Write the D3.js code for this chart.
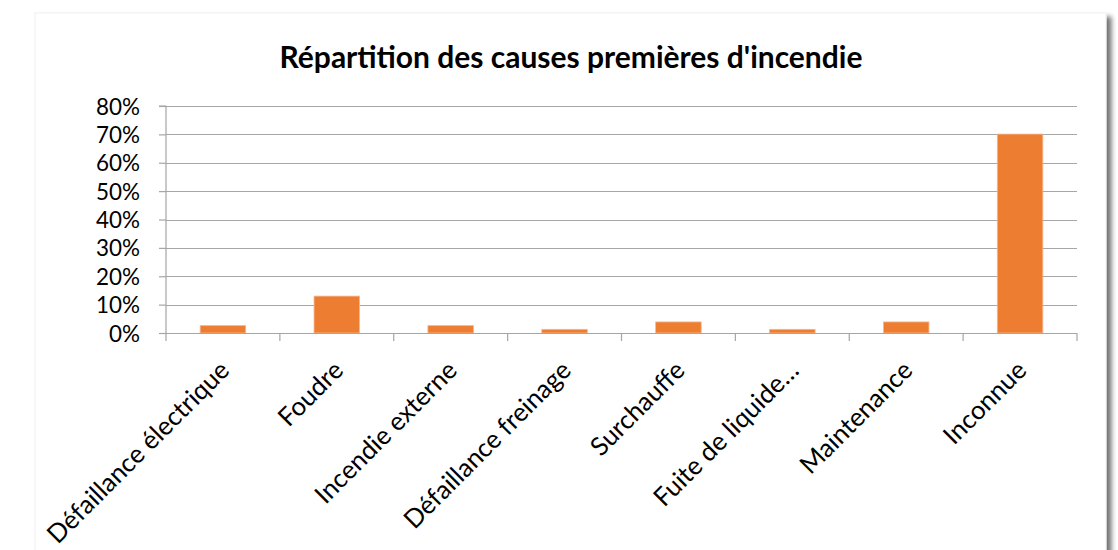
<!DOCTYPE html>
<html><head><meta charset="utf-8">
<script src="https://cdn.jsdelivr.net/npm/d3@7"></script>
<style>
html,body{margin:0;padding:0;background:#fff;}
svg{display:block;}
text{font-family:Lato,"Noto Sans",sans-serif;fill:#000;}
</style></head>
<body>
<svg id="c" width="1118" height="550"></svg>
<script>
const title = "Répartition des causes premières d'incendie";
const categories = ["Défaillance électrique","Foudre","Incendie externe","Défaillance freinage","Surchauffe","Fuite de liquide…","Maintenance","Inconnue"];
const values = [0.026,0.130,0.026,0.013,0.039,0.013,0.039,0.701];
const yTicks = [0,0.1,0.2,0.3,0.4,0.5,0.6,0.7,0.8];

const svg = d3.select("#c");
const defs = svg.append("defs");
const f = defs.append("filter").attr("id","sh").attr("x","-5%").attr("y","-5%").attr("width","115%").attr("height","115%");
f.append("feGaussianBlur").attr("in","SourceAlpha").attr("stdDeviation",2.5).attr("result","b");
f.append("feOffset").attr("in","b").attr("dx",5).attr("dy",4).attr("result","o");
f.append("feComponentTransfer").attr("in","o").attr("result","o2").append("feFuncA").attr("type","linear").attr("slope",0.55);
const m = f.append("feMerge"); m.append("feMergeNode").attr("in","o2"); m.append("feMergeNode").attr("in","SourceGraphic");

svg.append("rect").attr("x",35).attr("y",13).attr("width",1071).attr("height",560)
  .attr("fill","#fff").attr("stroke","#efefef").attr("stroke-width",1).attr("filter","url(#sh)");

const L=166, R=1077, T=106, B=333;
const x = d3.scaleBand().domain(categories).range([L,R]).paddingInner(0.6).paddingOuter(0.3);
const y = d3.scaleLinear().domain([0,0.8]).range([B,T]);

function fit(sel, target){
  const n = sel.node(); const fs = +sel.attr("font-size");
  const w = n.getComputedTextLength();
  return fs*target/w;
}

// gridlines
svg.append("g").selectAll("line").data(yTicks.slice(1)).join("line")
  .attr("x1",L).attr("x2",R).attr("y1",d=>Math.round(y(d))+0.5).attr("y2",d=>Math.round(y(d))+0.5)
  .attr("stroke","#a6a6a6").attr("stroke-width",1.2);

// y axis
const ya = svg.append("g").attr("transform",`translate(${L},0)`)
  .call(d3.axisLeft(y).tickValues(yTicks).tickFormat(d3.format(".0%")).tickSize(7).tickPadding(19));
ya.select(".domain").attr("stroke","#a6a6a6").attr("stroke-width",1.2).attr("d",`M-7,${T}H0V${B}`);
ya.selectAll(".tick line").attr("stroke","#a6a6a6").attr("stroke-width",1.2);
ya.selectAll("text").attr("font-size",22).attr("font-family","Lato").attr("dy","0.36em");
const yfs = fit(ya.selectAll(".tick text").filter(d=>d===0.8), 44);
ya.selectAll("text").attr("font-size",yfs);

// bars
svg.append("g").selectAll("rect").data(values).join("rect")
  .attr("x",(d,i)=>x(categories[i])).attr("width",x.bandwidth())
  .attr("y",d=>y(d)).attr("height",d=>B-y(d))
  .attr("fill","#ed7d31").attr("stroke","#f6b88f").attr("stroke-width",0.8);

// x axis
const step = (R-L)/categories.length;
const xa = svg.append("g").attr("transform",`translate(0,${B})`);
xa.append("line").attr("x1",L).attr("x2",R).attr("y1",0.5).attr("y2",0.5).attr("stroke","#a6a6a6").attr("stroke-width",1.2);
xa.selectAll("line.tk").data(d3.range(categories.length+1)).join("line").attr("class","tk")
  .attr("x1",i=>L+i*step).attr("x2",i=>L+i*step).attr("y1",0).attr("y2",8)
  .attr("stroke","#a6a6a6").attr("stroke-width",1.2);
const xl = xa.selectAll("text").data(categories).join("text")
  .attr("text-anchor","end").attr("font-size",22)
  .text(d=>d);
const xfs = fit(xl.filter((d,i)=>i===0), 245);
xl.attr("font-size",xfs)
  .attr("transform",d=>`translate(${x(d)+x.bandwidth()/2+8},${39}) rotate(-45)`);

// title
const tt = svg.append("text").attr("x",571).attr("y",68).attr("text-anchor","middle")
  .attr("font-size",25).attr("font-weight","bold").text(title);
tt.attr("font-size", fit(tt, 583));
</script>
</body></html>
